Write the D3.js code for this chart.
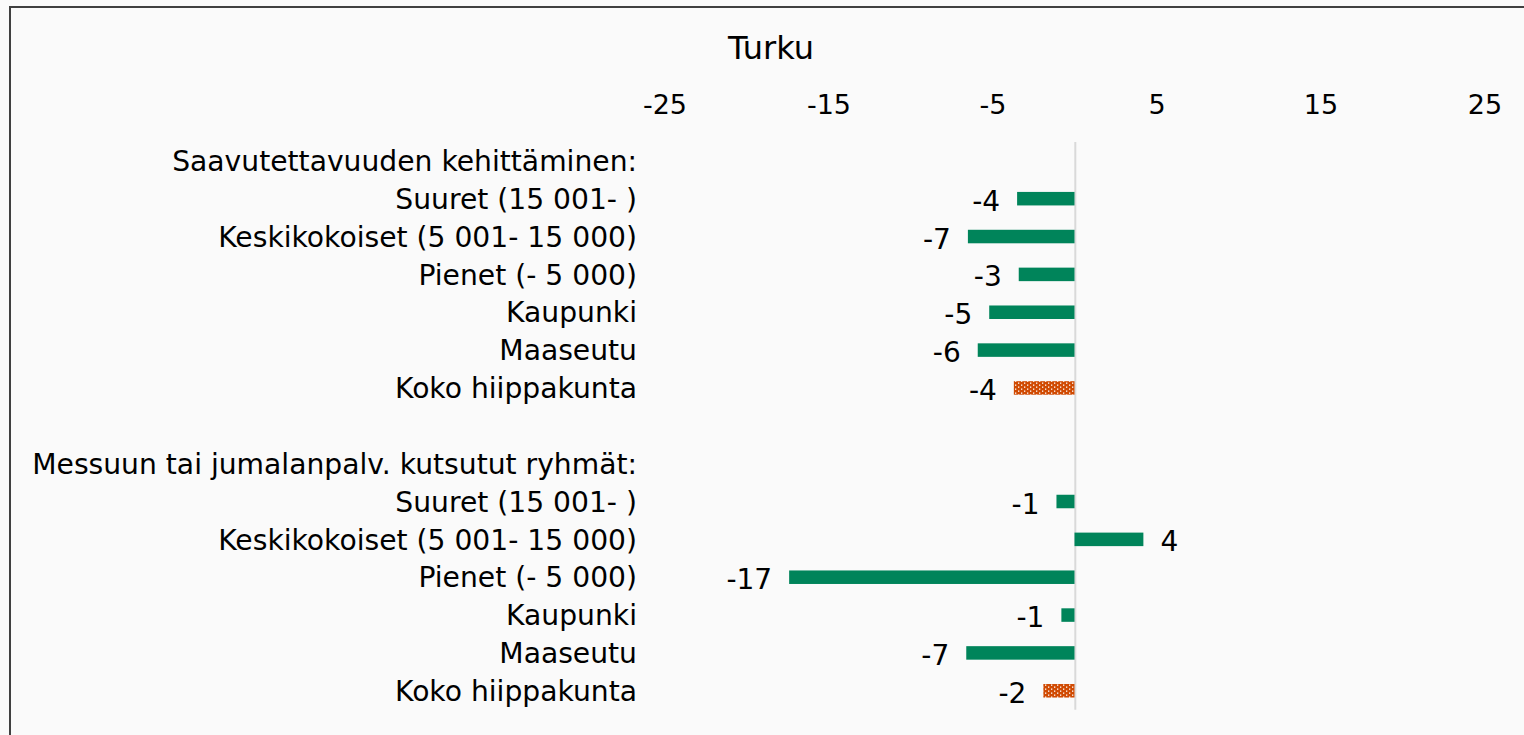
<!DOCTYPE html>
<html>
<head>
<meta charset="utf-8">
<script src="https://cdn.jsdelivr.net/npm/d3@7"></script>
<style>
  html, body { margin: 0; padding: 0; background: #fafafa; overflow: hidden; }
  svg { display: block; }
  text { font-family: "DejaVu Sans", Verdana, sans-serif; fill: #000; }
</style>
</head>
<body>
<svg id="chart" width="1524" height="735"></svg>
<script>
// ---- data ----
const title = "Turku";
const categories = [
  "Saavutettavuuden kehittäminen:",
  "Suuret (15 001- )",
  "Keskikokoiset (5 001- 15 000)",
  "Pienet (- 5 000)",
  "Kaupunki",
  "Maaseutu",
  "Koko hiippakunta",
  "",
  "Messuun tai jumalanpalv. kutsutut ryhmät:",
  "Suuret (15 001- )",
  "Keskikokoiset (5 001- 15 000)",
  "Pienet (- 5 000)",
  "Kaupunki",
  "Maaseutu",
  "Koko hiippakunta"
];
const values = [null, -3.5, -6.5, -3.4, -5.2, -5.9, -3.7, null, null, -1.1, 4.2, -17.4, -0.8, -6.6, -1.9];
const valueLabels = ["", "-4", "-7", "-3", "-5", "-6", "-4", "", "", "-1", "4", "-17", "-1", "-7", "-2"];
const isTotal = [false, false, false, false, false, false, true, false, false, false, false, false, false, false, true];
const tickValues = [-25, -15, -5, 5, 15, 25];

// ---- drawing ----
const svg = d3.select("#chart");
const W = 1524, H = 735;

svg.append("rect").attr("x", 0).attr("y", 0).attr("width", W).attr("height", H).attr("fill", "#fafafa");

const defs = svg.append("defs");
const pat = defs.append("pattern").attr("id", "dots").attr("patternUnits", "userSpaceOnUse")
  .attr("width", 6).attr("height", 4);
pat.append("rect").attr("width", 6).attr("height", 4).attr("fill", "#d04a02");
pat.append("rect").attr("x", 1).attr("y", 0.5).attr("width", 1.3).attr("height", 1.3).attr("fill", "#ffffff");
pat.append("rect").attr("x", 4).attr("y", 2.5).attr("width", 1.3).attr("height", 1.3).attr("fill", "#ffffff");

// frame
svg.append("rect").attr("x", 10).attr("y", 7).attr("width", W + 20).attr("height", H + 20)
  .attr("fill", "#fafafa").attr("stroke", "#404040").attr("stroke-width", 2);

const x = d3.scaleLinear().domain([-25, 25]).range([664.5, 1484.5]);
const y = d3.scaleBand().domain(d3.range(categories.length)).range([141.9, 709.7]).paddingInner(0).paddingOuter(0);
const barH = y.bandwidth() * 0.357;

// title
svg.append("text").attr("x", 771).attr("y", 59).attr("text-anchor", "middle")
  .style("font-size", "32px").text(title);

// top axis
const axis = d3.axisTop(x).tickValues(tickValues).tickSize(0).tickPadding(0).tickFormat(d => String(d));
const ag = svg.append("g").attr("transform", "translate(0,114)").call(axis);
ag.select(".domain").remove();
ag.selectAll("text").style("font-size", "27px").style("font-family", "'DejaVu Sans', Verdana, sans-serif").attr("fill", "#000");

// zero line
svg.append("line").attr("x1", x(0) + 0.8).attr("x2", x(0) + 0.8)
  .attr("y1", 141.9).attr("y2", 709.7)
  .attr("stroke", "#d9d9d9").attr("stroke-width", 2);

// category labels
svg.append("g").selectAll("text").data(categories).join("text")
  .attr("x", 637).attr("y", (d, i) => y(i) + y.bandwidth() / 2)
  .attr("dy", "0.36em").attr("text-anchor", "end")
  .style("font-size", "28.2px").text(d => d);

// bars
const rows = values.map((v, i) => ({ v, i, total: isTotal[i], label: valueLabels[i] })).filter(d => d.v !== null);
svg.append("g").selectAll("rect").data(rows).join("rect")
  .attr("x", d => Math.min(x(0), x(d.v)))
  .attr("width", d => Math.abs(x(d.v) - x(0)))
  .attr("y", d => y(d.i) + y.bandwidth() / 2 - barH / 2)
  .attr("height", barH)
  .attr("fill", d => d.total ? "url(#dots)" : "#00845a");

// value labels
svg.append("g").selectAll("text").data(rows).join("text")
  .attr("x", d => d.v < 0 ? x(d.v) - 17 : x(d.v) + 17)
  .attr("y", d => y(d.i) + y.bandwidth() / 2 + 2)
  .attr("dy", "0.36em")
  .attr("text-anchor", d => d.v < 0 ? "end" : "start")
  .style("font-size", "28px").text(d => d.label);
</script>
</body>
</html>
